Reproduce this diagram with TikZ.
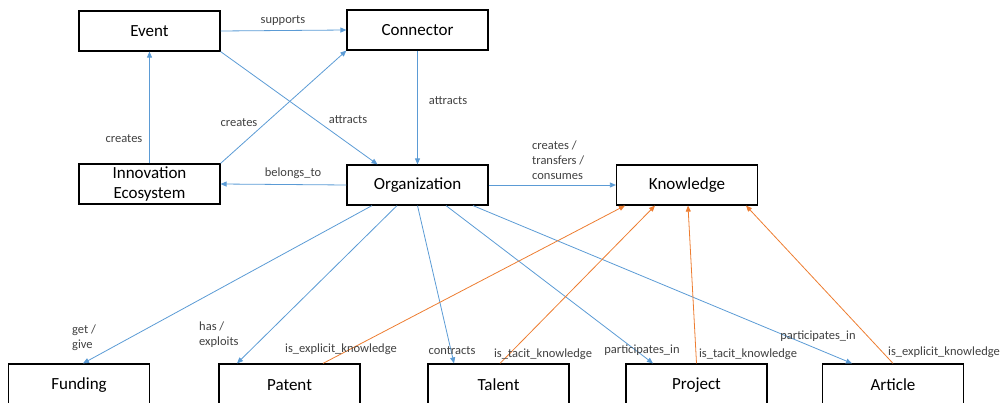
\documentclass[tikz,border=0pt]{standalone}
\usepackage{fontspec}
\setmainfont{Carlito}
\usetikzlibrary{arrows.meta}

\definecolor{relblue}{HTML}{5B9BD5}
\definecolor{knorange}{HTML}{ED7D31}

\begin{document}
\begin{tikzpicture}[
  x=1pt,
  y=-1pt
]

% スタイル
\tikzset{
  box/.style={draw=black, line width=1.2pt, minimum width=141pt, minimum height=40pt, inner sep=0pt, align=center, font=\fontsize{17}{20.5}\selectfont},
  lowbox/.style={box, minimum height=42pt},
  rel/.style={draw=relblue, line width=0.8pt, -{Triangle[length=6pt,width=5pt]}},
  kn/.style={draw=knorange, line width=0.8pt, -{Triangle[length=6pt,width=5pt]}},
  lbl/.style={inner sep=0pt, align=left, text=black!75, font=\fontsize{12.5}{15}\selectfont}
}

\useasboundingbox (0,0) rectangle (1001,403);

% ===== 上段・中段のボックス =====
\node[box] (event) at (149.5,31) {Event};
\node[box] (connector) at (417.5,30) {Connector};
\node[box] (ecosystem) at (149.5,184) {Innovation\\Ecosystem};
\node[box] (org) at (417.5,185) {Organization};
\node[box] (knowledge) at (687,185) {Knowledge};

% ===== 下段のボックス =====
\node[lowbox] (funding) at (79,385) {Funding};
\node[lowbox] (patent) at (289.5,385) {Patent};
\node[lowbox] (talent) at (498.5,385) {Talent};
\node[lowbox] (project) at (696.5,385) {Project};
\node[lowbox] (article) at (893,385) {Article};

% ===== 関係(青) =====
\draw[rel] (event.east) -- (connector.west);
\draw[rel] (event.south east) -- ([xshift=-40pt]org.north);
\draw[rel] (ecosystem.north) -- (event.south);
\draw[rel] (ecosystem.north east) -- (connector.south west);
\draw[rel] (connector.south) -- (org.north);
\draw[rel] (org.west) -- (ecosystem.east);
\draw[rel] (org.east) -- (knowledge.west);
\draw[rel] ([xshift=-45.5pt]org.south) -- ([xshift=4pt]funding.north);
\draw[rel] ([xshift=-20.5pt]org.south) -- ([xshift=-52.5pt]patent.north);
\draw[rel] (org.south) -- ([xshift=-44.5pt]talent.north);
\draw[rel] ([xshift=28.5pt]org.south) -- ([xshift=-43.5pt]project.north);
\draw[rel] ([xshift=55.5pt]org.south) -- ([xshift=-41pt]article.north);

% ===== 知識との関係(橙) =====
\draw[kn] ([xshift=33.5pt]patent.north) -- ([xshift=-62pt]knowledge.south);
\draw[kn] ([xshift=1.5pt]talent.north) -- ([xshift=-32pt]knowledge.south);
\draw[kn] (project.north) -- ([xshift=1pt]knowledge.south);
\draw[kn] (article.north) -- ([xshift=59pt]knowledge.south);

% ===== ラベル =====
\node[lbl] (l-supports) at (283,21) {supports};
\node[lbl] (l-attracts1) at (348,120) {attracts};
\node[lbl] (l-creates1) at (124,139) {creates};
\node[lbl] (l-creates2) at (239,123) {creates};
\node[lbl] (l-attracts2) at (448,101) {attracts};
\node[lbl] (l-belongs) at (293,173) {belongs\_to};
\node[lbl, anchor=west] (l-knowledge) at (532,160) {creates /\\transfers /\\consumes};
\node[lbl, anchor=west] (l-funding) at (72,338) {get /\\give};
\node[lbl, anchor=west] (l-patent) at (199,335) {has /\\exploits};
\node[lbl] (l-explicit1) at (341,349) {is\_explicit\_knowledge};
\node[lbl] (l-contracts) at (452,351) {contracts};
\node[lbl] (l-tacit1) at (543,354) {is\_tacit\_knowledge};
\node[lbl] (l-part1) at (642,350) {participates\_in};
\node[lbl] (l-tacit2) at (748,354) {is\_tacit\_knowledge};
\node[lbl] (l-part2) at (818,336) {participates\_in};
\node[lbl] (l-explicit2) at (944,352) {is\_explicit\_knowledge};

\end{tikzpicture}
\end{document}
